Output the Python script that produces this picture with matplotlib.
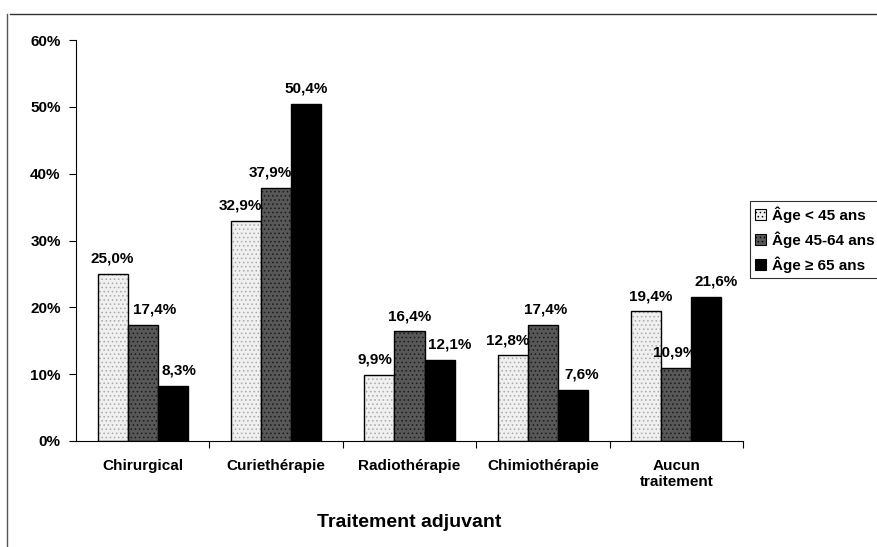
import numpy as np
import matplotlib.pyplot as plt
from matplotlib.lines import Line2D

plt.rcParams['font.family'] = ['Liberation Sans', 'DejaVu Sans']
plt.rcParams['font.weight'] = 'bold'
plt.rcParams['hatch.linewidth'] = 0.6

categories = ['Chirurgical', 'Curiethérapie', 'Radiothérapie', 'Chimiothérapie', 'Aucun\ntraitement']
series = ['Âge < 45 ans', 'Âge 45-64 ans', 'Âge ≥ 65 ans']
age_lt45 = [25.0, 32.9, 9.9, 12.8, 19.4]
age_45_64 = [17.4, 37.9, 16.4, 17.4, 10.9]
age_ge65 = [8.3, 50.4, 12.1, 7.6, 21.6]

# small horizontal nudges of the value labels (pixels), as in the original
label_dx = [[0, -6, -5, -5, 4],
            [12, -6, 0, 3, -2],
            [6, 0, 10, 9, 10]]

fig = plt.figure(figsize=(8.78, 5.47), dpi=100)
ax = fig.add_axes([76 / 878, 1 - 441 / 547, 667 / 878, 401 / 547])

x = np.arange(len(categories))
w = 0.225
styles = [
    dict(facecolor='#f0f0f0', hatch='....', hcolor='#a8a8a8'),
    dict(facecolor='#585858', hatch='....', hcolor='#1a1a1a'),
    dict(facecolor='black', hatch=None, hcolor='black'),
]
data = [age_lt45, age_45_64, age_ge65]
for i, (vals, st, name) in enumerate(zip(data, styles, series)):
    pos = x + (i - 1) * w
    ax.bar(pos, vals, w, facecolor=st['facecolor'], edgecolor=st['hcolor'],
           hatch=st['hatch'], linewidth=0, label=name)
    ax.bar(pos, vals, w, facecolor='none', edgecolor='black', linewidth=1.0)
    for p, v, dx in zip(pos, vals, label_dx[i]):
        ax.annotate(f'{v:.1f}%'.replace('.', ','), (p, v), xytext=(dx * 0.72, 11),
                    textcoords='offset points', ha='center', va='center',
                    fontsize=11, fontweight='bold')

ax.set_xlim(-0.5, len(categories) - 0.5)
ax.set_ylim(0, 60)
ax.set_yticks(np.arange(0, 61, 10))
ax.set_yticklabels([f'{v}%' for v in range(0, 61, 10)], fontsize=11, fontweight='bold')
ax.set_xticks(np.arange(len(categories)) + 0.5)
ax.set_xticklabels([])
ax.set_xticks(x, minor=True)
ax.set_xticklabels(categories, minor=True, fontsize=11, fontweight='bold')
ax.tick_params(axis='x', which='minor', length=0, pad=13)
ax.tick_params(axis='x', which='major', length=5, direction='out')
ax.tick_params(axis='y', length=5, direction='out', pad=6)
for s in ['top', 'right']:
    ax.spines[s].set_visible(False)

ax.set_xlabel('Traitement adjuvant', fontsize=14, fontweight='bold', labelpad=18)

handles, labels = ax.get_legend_handles_labels()
leg = fig.legend(handles, labels, loc='upper left', bbox_to_anchor=(750 / 878, 1 - 201 / 547),
                 fontsize=11, frameon=True, fancybox=False, edgecolor='black',
                 handlelength=0.7, handleheight=0.7, handletextpad=0.4,
                 borderpad=0.35, labelspacing=0.55, borderaxespad=0)
leg.get_frame().set_linewidth(0.8)
for h in leg.legend_handles:
    h.set_edgecolor('black')
    h.set_linewidth(0.8)

# scan frame: only top and left edges are visible
fig.lines.append(Line2D([10 / 878, 1], [1 - 14 / 547] * 2, transform=fig.transFigure,
                        color='#333333', linewidth=1.0))
fig.lines.append(Line2D([7 / 878] * 2, [0, 1 - 14 / 547], transform=fig.transFigure,
                        color='#555555', linewidth=1.0))

fig.savefig('out.png', dpi=100)
